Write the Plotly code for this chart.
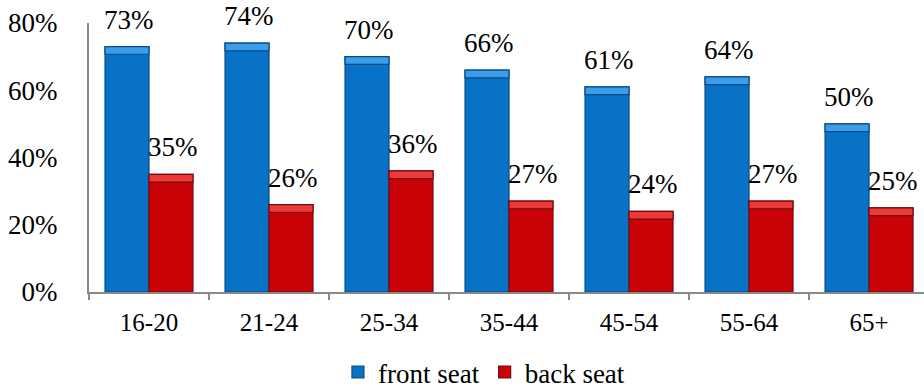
import plotly.graph_objects as go

categories = ["16-20", "21-24", "25-34", "35-44", "45-54", "55-64", "65+"]
front_seat = [73, 74, 70, 66, 61, 64, 50]
back_seat = [35, 26, 36, 27, 24, 27, 25]
y_ticks = [0, 20, 40, 60, 80]
y_tick_labels = ["0%", "20%", "40%", "60%", "80%"]

FONT = "Liberation Serif"
BLUE = "#0872C6"
BLUE_TOP = "#3C9DE8"
RED = "#C90207"
RED_TOP = "#EC3A3A"
BEVEL = 2.3  # height of the lighter top bevel, in axis units

fig = go.Figure()
fig.add_trace(go.Bar(
    name="front seat", x=categories, y=front_seat, offsetgroup="front",
    marker=dict(color=BLUE, line=dict(color="#0A4A86", width=1.2)),
))
fig.add_trace(go.Bar(
    name="back seat", x=categories, y=back_seat, offsetgroup="back",
    marker=dict(color=RED, line=dict(color="#7A0A0A", width=1.2)),
))
fig.add_trace(go.Bar(
    x=categories, y=[BEVEL] * len(front_seat), base=[v - BEVEL for v in front_seat],
    offsetgroup="front", showlegend=False, hoverinfo="skip",
    marker=dict(color=BLUE_TOP, line=dict(color="#0A4A86", width=1.2)),
))
fig.add_trace(go.Bar(
    x=categories, y=[BEVEL] * len(back_seat), base=[v - BEVEL for v in back_seat],
    offsetgroup="back", showlegend=False, hoverinfo="skip",
    marker=dict(color=RED_TOP, line=dict(color="#7A0A0A", width=1.2)),
))

annotations = []
for c, v in zip(categories, front_seat):
    annotations.append(dict(x=c, y=v, text=f"{v}%", showarrow=False,
                            xshift=-20, yshift=10, yanchor="bottom",
                            font=dict(family=FONT, size=27, color="#000")))
for c, v in zip(categories, back_seat):
    annotations.append(dict(x=c, y=v, text=f"{v}%", showarrow=False,
                            xshift=24, yshift=10, yanchor="bottom",
                            font=dict(family=FONT, size=27, color="#000")))

fig.update_layout(
    width=924, height=390,
    margin=dict(l=89, r=0, t=23, b=98, autoexpand=False),
    paper_bgcolor="white", plot_bgcolor="white",
    barmode="group", bargap=0.267, bargroupgap=0,
    font=dict(family=FONT, size=26, color="#000"),
    annotations=annotations,
    showlegend=True,
    legend=dict(orientation="h", x=0.473, xanchor="center", y=-0.208, yanchor="top",
                font=dict(family=FONT, size=27), tracegroupgap=0),
    xaxis=dict(range=[-0.5, 6.458], showline=True, linecolor="#898989", linewidth=2,
               ticks="outside", tickson="boundaries", ticklen=6, tickcolor="#898989",
               tickwidth=2, ticklabelstandoff=7, showgrid=False,
               tickfont=dict(family=FONT, size=25)),
    yaxis=dict(range=[0, 80], showline=True, linecolor="#898989", linewidth=2,
               tickvals=y_ticks, ticktext=y_tick_labels, showgrid=False, zeroline=False,
               ticks="outside", ticklen=24, tickcolor="rgba(0,0,0,0)",
               tickfont=dict(family=FONT, size=27)),
)

fig.write_html("out.html", config={"displayModeBar": False},
               post_script="document.body.style.margin='0';")
